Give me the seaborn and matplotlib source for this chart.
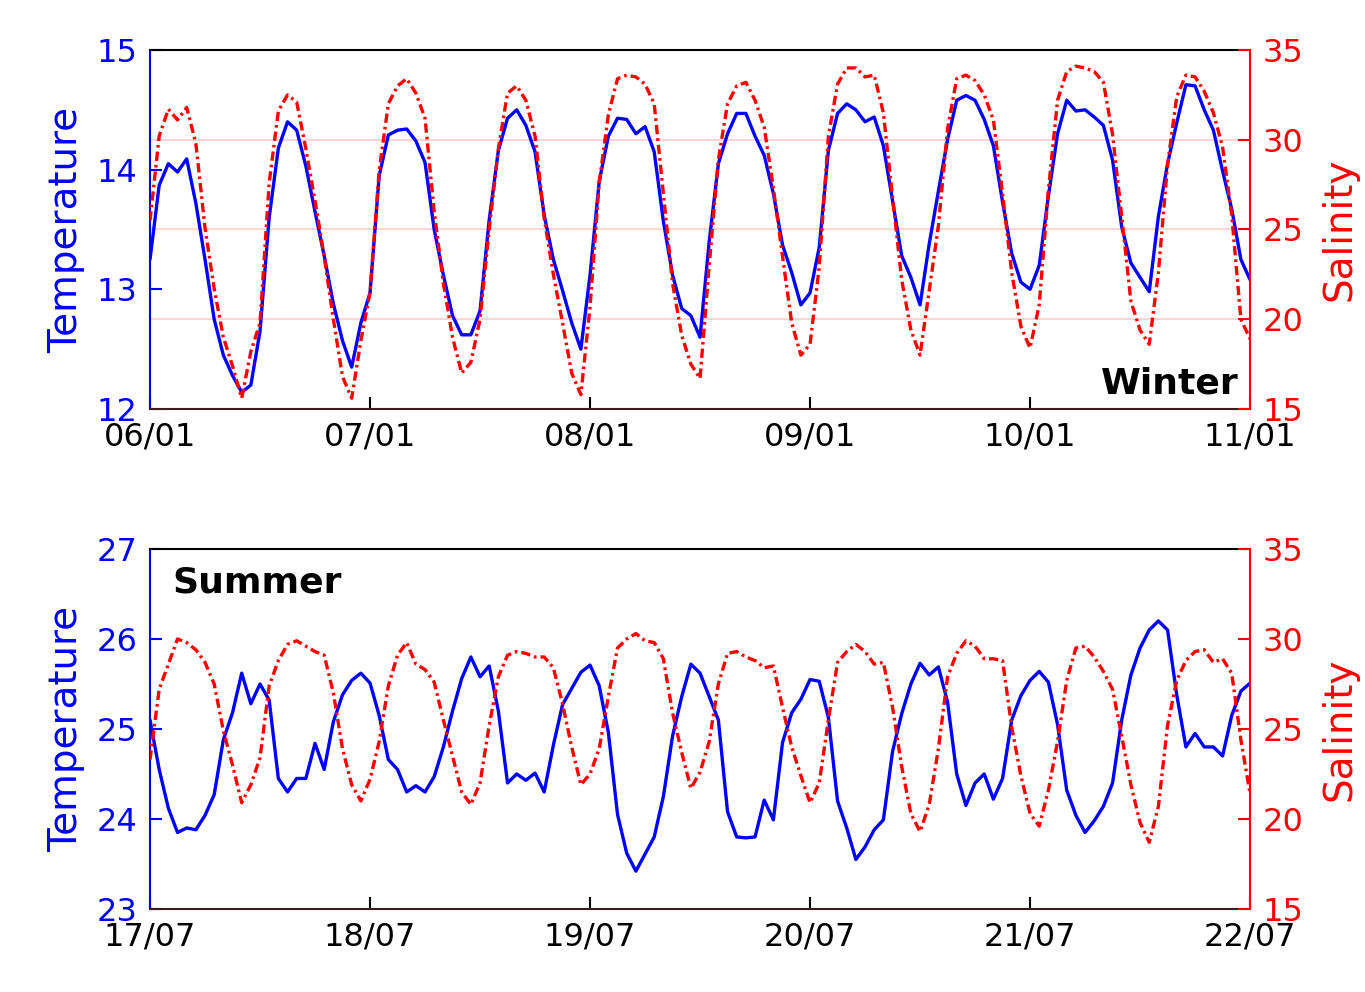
import pandas as pd
import matplotlib
matplotlib.use("Agg")
import matplotlib.pyplot as plt
import matplotlib.dates as mdates
from matplotlib.ticker import FixedLocator
import seaborn as sns

# hourly readings, 5 days per panel
winter_start = "2018-01-06"
summer_start = "2018-07-17"

winter_temp = [13.25, 13.87, 14.05, 13.98, 14.09, 13.72, 13.25, 12.75, 12.45, 12.28,
               12.14, 12.20, 12.65, 13.60, 14.18, 14.40, 14.33, 14.03, 13.65, 13.28,
               12.88, 12.57, 12.35, 12.72, 12.97, 13.95, 14.29, 14.33, 14.34, 14.24,
               14.06, 13.50, 13.12, 12.78, 12.62, 12.62, 12.82, 13.58, 14.16, 14.43,
               14.50, 14.37, 14.15, 13.62, 13.25, 12.99, 12.72, 12.50, 13.12, 13.90,
               14.28, 14.43, 14.42, 14.30, 14.36, 14.15, 13.57, 13.12, 12.84, 12.78,
               12.60, 13.40, 14.05, 14.30, 14.47, 14.47, 14.28, 14.12, 13.80, 13.37,
               13.14, 12.87, 12.97, 13.35, 14.16, 14.47, 14.55, 14.50, 14.40, 14.44,
               14.20, 13.74, 13.28, 13.10, 12.87, 13.38, 13.82, 14.25, 14.58, 14.62,
               14.58, 14.42, 14.20, 13.73, 13.30, 13.06, 13.00, 13.20, 13.78, 14.30,
               14.58, 14.49, 14.50, 14.44, 14.37, 14.08, 13.52, 13.22, 13.10, 12.98,
               13.61, 14.05, 14.39, 14.71, 14.70, 14.50, 14.33, 13.99, 13.67, 13.25, 13.08]

winter_sal = [25.5, 30.2, 31.7, 31.1, 31.8, 29.8, 25.1, 21.7, 19.0, 17.4,
              15.6, 18.2, 19.8, 27.6, 31.6, 32.5, 32.1, 29.5, 26.6, 23.5,
              20.0, 16.8, 15.6, 18.8, 21.5, 28.3, 32.0, 33.0, 33.4, 32.6,
              31.2, 26.0, 22.0, 19.0, 17.0, 17.6, 20.0, 25.0, 29.5, 32.6,
              33.0, 32.2, 30.2, 25.6, 22.5, 19.8, 17.0, 15.8, 20.7, 27.6,
              31.4, 33.4, 33.6, 33.5, 33.1, 32.0, 27.0, 22.0, 19.1, 17.5,
              16.7, 23.0, 28.9, 32.0, 33.0, 33.2, 32.2, 30.7, 27.3, 23.5,
              19.8, 18.0, 18.6, 22.9, 30.2, 33.1, 34.0, 34.0, 33.5, 33.6,
              31.5, 26.8, 22.2, 19.4, 18.0, 21.6, 25.2, 30.6, 33.4, 33.6,
              33.3, 32.5, 31.1, 27.0, 22.6, 19.6, 18.4, 20.8, 27.2, 32.2,
              33.8, 34.1, 34.0, 33.8, 33.2, 30.3, 25.7, 21.0, 19.4, 18.6,
              22.6, 28.6, 32.4, 33.6, 33.5, 32.7, 31.5, 29.6, 25.8, 20.0, 18.9]

summer_temp = [25.10, 24.55, 24.12, 23.85, 23.90, 23.88, 24.04, 24.27, 24.88, 25.18,
               25.62, 25.28, 25.50, 25.32, 24.45, 24.30, 24.45, 24.45, 24.84, 24.55,
               25.08, 25.38, 25.54, 25.62, 25.51, 25.15, 24.66, 24.55, 24.30, 24.37,
               24.30, 24.47, 24.80, 25.20, 25.56, 25.80, 25.58, 25.70, 25.20, 24.40,
               24.50, 24.43, 24.51, 24.30, 24.82, 25.27, 25.45, 25.63, 25.71, 25.48,
               24.96, 24.05, 23.62, 23.42, 23.61, 23.80, 24.25, 24.92, 25.36, 25.72,
               25.62, 25.36, 25.10, 24.08, 23.80, 23.79, 23.80, 24.21, 23.99, 24.85,
               25.18, 25.33, 25.55, 25.53, 25.13, 24.20, 23.90, 23.55, 23.69, 23.88,
               23.99, 24.75, 25.17, 25.50, 25.73, 25.60, 25.69, 25.30, 24.50, 24.15,
               24.40, 24.50, 24.22, 24.45, 25.10, 25.37, 25.54, 25.64, 25.52, 25.05,
               24.32, 24.04, 23.85, 23.98, 24.14, 24.40, 25.10, 25.60, 25.90, 26.10,
               26.20, 26.10, 25.38, 24.80, 24.95, 24.80, 24.80, 24.70, 25.15, 25.42, 25.51]

summer_sal = [23.3, 27.2, 28.6, 30.0, 29.8, 29.4, 28.7, 27.5, 24.9, 23.0,
              20.9, 21.9, 23.4, 27.4, 28.8, 29.7, 29.9, 29.6, 29.3, 29.1,
              27.0, 23.9, 21.9, 21.0, 22.2, 24.3, 27.4, 29.1, 29.8, 28.6,
              28.3, 27.6, 25.5, 23.5, 21.5, 20.8, 22.0, 25.2, 27.9, 29.1,
              29.3, 29.2, 29.0, 29.0, 28.4, 26.4, 24.0, 21.9, 22.5, 23.9,
              26.8, 29.5, 30.0, 30.3, 29.9, 29.8, 28.9, 25.9, 23.7, 21.7,
              22.6, 24.3, 27.5, 29.2, 29.3, 29.0, 28.8, 28.4, 28.5, 26.2,
              24.0, 22.4, 20.9, 22.0, 25.5, 28.7, 29.3, 29.7, 29.3, 28.6,
              28.7, 26.2, 22.9, 20.3, 19.3, 20.8, 23.9, 27.9, 29.2, 29.9,
              29.6, 28.9, 28.9, 28.8, 25.1, 22.4, 20.3, 19.6, 21.6, 24.3,
              27.7, 29.5, 29.6, 29.0, 28.2, 27.2, 24.6, 21.9, 19.8, 18.7,
              20.7, 25.2, 27.7, 28.8, 29.3, 29.4, 28.7, 28.9, 28.1, 24.4, 21.4]

winter_tticks = [12, 13, 14, 15]
summer_tticks = [23, 24, 25, 26, 27]
sal_ticks = [15, 20, 25, 30, 35]

sns.set_style("white")
plt.rcParams["font.family"] = ["DejaVu Sans"]

fig = plt.figure(figsize=(13.65, 9.92), dpi=100)


def panel(rect, start, temp, sal, tticks, name, name_xy, ha, va):
    times = pd.date_range(start, periods=len(temp), freq="h")
    df = pd.DataFrame({"time": times, "temp": temp, "sal": sal})

    ax = fig.add_axes(rect)
    ax2 = ax.twinx()
    sns.lineplot(data=df, x="time", y="temp", ax=ax, color="blue", lw=2.4)
    sns.lineplot(data=df, x="time", y="sal", ax=ax2, color="red", lw=2.4)
    ax2.lines[0].set_dashes([2.8, 1.2, 0.8, 1.2])

    ax.set_xlim(times[0], times[-1])
    ax.set_ylim(tticks[0], tticks[-1])
    ax2.set_ylim(sal_ticks[0], sal_ticks[-1])
    ax.set_yticks(tticks)
    ax2.set_yticks(sal_ticks)

    # faint grid at the salinity ticks, kept under both curves
    lo, hi = tticks[0], tticks[-1]
    grid_t = [lo + (s - sal_ticks[0]) / (sal_ticks[-1] - sal_ticks[0]) * (hi - lo)
              for s in sal_ticks[1:-1]]
    ax.yaxis.set_minor_locator(FixedLocator(grid_t))
    ax.grid(which="minor", axis="y", color="#ffd6d6", lw=1.5)
    ax.tick_params(which="minor", length=0)

    ax.xaxis.set_major_locator(mdates.DayLocator())
    ax.xaxis.set_major_formatter(mdates.DateFormatter("%d/%m"))

    ax.tick_params(axis="x", which="major", bottom=True, top=False, direction="in",
                   length=8.5, width=1.5, colors="black", labelsize=23, pad=9)
    ax.tick_params(axis="y", which="major", left=True, right=False, direction="in",
                   length=8.5, width=1.5, colors="blue", labelsize=23, pad=9)
    ax2.tick_params(axis="y", which="major", right=True, left=False, direction="in",
                    length=8.5, width=1.5, colors="red", labelsize=23, pad=9)

    ax.set_xlabel("")
    ax.set_ylabel("Temperature", color="blue", fontsize=28, labelpad=8)
    ax2.set_ylabel("Salinity", color="red", fontsize=28, labelpad=12)

    for s in ax.spines.values():
        s.set_linewidth(1.5)
    ax.spines["left"].set_color("blue")
    ax.spines["top"].set_color("black")
    ax.spines["bottom"].set_color("#3c1c1c")
    ax.spines["right"].set_visible(False)
    for key in ["top", "bottom", "left"]:
        ax2.spines[key].set_visible(False)
    ax2.spines["right"].set_color("red")
    ax2.spines["right"].set_linewidth(1.5)

    ax.text(name_xy[0], name_xy[1], name, transform=ax.transAxes, ha=ha, va=va,
            fontsize=26, fontweight="bold", color="black")


panel([0.1099, 0.5877, 0.8059, 0.3619], winter_start, winter_temp, winter_sal,
      winter_tticks, "Winter", (0.99, 0.025), "right", "bottom")
panel([0.1099, 0.0837, 0.8059, 0.3629], summer_start, summer_temp, summer_sal,
      summer_tticks, "Summer", (0.02, 0.955), "left", "top")

fig.savefig("out.png", dpi=100)
